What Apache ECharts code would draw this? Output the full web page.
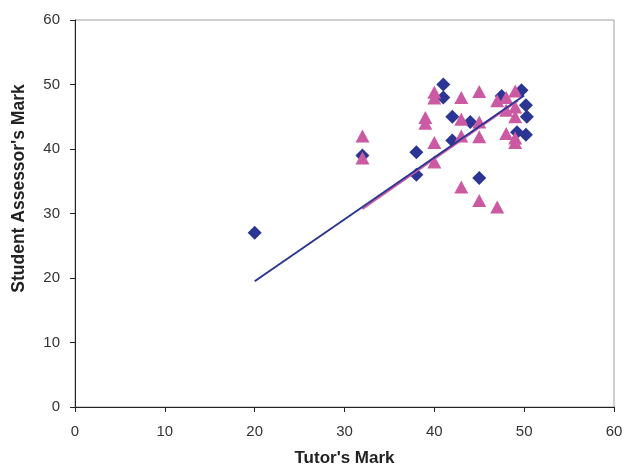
<!DOCTYPE html>
<html>
<head>
<meta charset="utf-8">
<script src="https://cdn.jsdelivr.net/npm/echarts@6/dist/echarts.min.js"></script>
<style>
  html, body { margin: 0; padding: 0; background: #fff; }
  #chart { width: 627px; height: 466px; }
</style>
</head>
<body>
<div id="chart"></div>
<script>
// Tutor's mark vs student assessor's mark, two assessor groups
const groupA = [
  [20, 27], [32, 39], [38, 39.5], [38, 36], [41, 50], [41, 48],
  [42, 45], [42, 41.3], [44, 44.2], [45, 35.5], [47.5, 48.2],
  [49.7, 49.1], [50.2, 46.8], [50.3, 45], [50.2, 42.2], [49.2, 42.6]
];
const groupB = [
  [32, 42], [32, 38.6], [39, 44.9], [39, 44], [40, 48.8], [40, 47.9],
  [40, 41], [40, 38], [43, 48], [43, 44.6], [43, 42], [43, 34.1],
  [45, 48.9], [45, 44.2], [45, 41.9], [45, 32], [47, 31], [47, 47.5],
  [48, 48], [49, 49], [49, 46.5], [49, 45], [48, 42.4], [49, 41.7],
  [49, 41], [48, 46]
];
// Linear trend line end points for each group
const trendA = [[20, 19.5], [50, 48.3]];
const trendB = [[32, 30.7], [49.3, 47.5]];
const axisTicks = [0, 10, 20, 30, 40, 50, 60];

const blue = '#2B3593';
const pink = '#CC5AA2';
const font = 'Liberation Sans, Arial, sans-serif';

const chart = echarts.init(document.getElementById('chart'));
chart.setOption({
  backgroundColor: '#fff',
  animation: false,
  grid: {
    left: 75, right: 13, top: 20, bottom: 59,
    outerBoundsMode: 'none',
    show: true, borderColor: '#a0a0a0', borderWidth: 1
  },
  xAxis: {
    type: 'value',
    min: axisTicks[0], max: axisTicks[axisTicks.length - 1], interval: 10,
    name: "Tutor's Mark", nameLocation: 'middle', nameGap: 43,
    nameTextStyle: { fontFamily: font, fontSize: 17, fontWeight: 'bold', color: '#222' },
    axisLine: { lineStyle: { color: '#222', width: 1 } },
    axisTick: { show: true, inside: false, length: 5, lineStyle: { color: '#222' } },
    axisLabel: { fontFamily: font, fontSize: 15, color: '#333', margin: 17 },
    splitLine: { show: false }
  },
  yAxis: {
    type: 'value',
    min: axisTicks[0], max: axisTicks[axisTicks.length - 1], interval: 10,
    name: "Student Assessor's Mark", nameLocation: 'middle', nameGap: 47,
    nameTextStyle: {
      fontFamily: font, fontSize: 17.5, fontWeight: 'bold', color: '#222',
      padding: [0, 0, 0, 50]
    },
    axisLine: { show: true, lineStyle: { color: '#222', width: 1 } },
    axisTick: { show: true, inside: false, length: 5, lineStyle: { color: '#222' } },
    axisLabel: { fontFamily: font, fontSize: 15, color: '#333', margin: 15 },
    splitLine: { show: false }
  },
  series: [
    {
      type: 'scatter', data: groupA, symbol: 'diamond', symbolSize: [14, 14],
      itemStyle: { color: blue, opacity: 1 }, z: 2
    },
    {
      type: 'scatter', data: groupB, symbol: 'triangle', symbolSize: [14, 13],
      itemStyle: { color: pink, opacity: 1 }, z: 3
    },
    {
      type: 'line', data: trendB, symbol: 'none',
      lineStyle: { color: pink, width: 2 }, z: 4
    },
    {
      type: 'line', data: trendA, symbol: 'none',
      lineStyle: { color: blue, width: 2 }, z: 5
    }
  ]
});
</script>
</body>
</html>
